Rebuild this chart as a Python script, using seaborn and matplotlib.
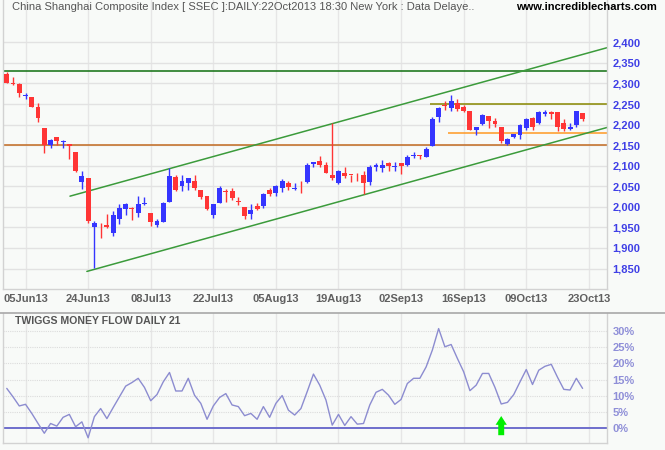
import matplotlib
matplotlib.use('Agg')
import matplotlib.pyplot as plt
import seaborn as sns
import numpy as np
from matplotlib.lines import Line2D
from matplotlib.patches import FancyArrow

sns.set_theme(style='white')
plt.rcParams['font.family'] = ['Liberation Sans', 'DejaVu Sans']

# ---------------- data ----------------
opens = [2323, 2301, 2299, 2270, 2267, 2243, 2192, 2150, 2169, 2158,
         2153, 2134, 2061, 2070, 1950, 1957, 1956, 1937, 1970, 1994,
         1998, 1986, 2008, 1985, 1957, 1964, 2013, 2072, 2050, 2058,
         2064, 2041, 2027, 1980, 2010, 2038, 2039, 2015, 2000, 1983,
         2002, 2002, 2041, 2033, 2047, 2058, 2044, 2053, 2061, 2105,
         2112, 2102, 2078, 2058, 2083, 2078, 2070, 2078, 2060, 2096,
         2095, 2107, 2098, 2106, 2101, 2124, 2125, 2122, 2148, 2218,
         2248, 2240, 2252, 2244, 2234, 2188, 2202, 2220, 2209, 2195,
         2154, 2169, 2174, 2192, 2216, 2205, 2225, 2231, 2230, 2204,
         2190, 2199, 2229]
highs = [2329, 2315, 2300, 2278, 2268, 2252, 2192, 2165, 2171, 2163,
         2154, 2134, 2088, 2070, 1966, 1960, 1983, 1991, 2006, 2010,
         1999, 2027, 2025, 1985, 1970, 2013, 2094, 2078, 2078, 2069,
         2078, 2041, 2027, 2007, 2051, 2044, 2047, 2023, 2000, 2006,
         2009, 2033, 2047, 2053, 2068, 2062, 2059, 2063, 2106, 2110,
         2124, 2110, 2203, 2090, 2098, 2078, 2083, 2086, 2101, 2107,
         2115, 2110, 2110, 2106, 2125, 2134, 2127, 2146, 2218, 2242,
         2258, 2272, 2263, 2248, 2234, 2195, 2226, 2220, 2216, 2195,
         2168, 2178, 2201, 2216, 2218, 2232, 2235, 2232, 2230, 2214,
         2204, 2234, 2229]
lows = [2302, 2297, 2268, 2263, 2244, 2207, 2130, 2144, 2151, 2142,
        2117, 2085, 2044, 1960, 1852, 1925, 1949, 1928, 1959, 1980,
        1968, 1976, 2005, 1954, 1950, 1962, 2012, 2039, 2039, 2041,
        2041, 2019, 1993, 1972, 2009, 2013, 2017, 2005, 1971, 1970,
        1993, 1998, 2027, 2027, 2037, 2041, 2040, 2033, 2059, 2096,
        2096, 2082, 2065, 2056, 2070, 2061, 2063, 2031, 2053, 2088,
        2084, 2088, 2088, 2081, 2099, 2118, 2117, 2121, 2148, 2206,
        2236, 2232, 2232, 2231, 2186, 2175, 2199, 2191, 2195, 2156,
        2150, 2168, 2164, 2187, 2187, 2202, 2221, 2213, 2185, 2185,
        2188, 2193, 2208]
closes = [2302, 2299, 2276, 2272, 2244, 2216, 2150, 2163, 2159, 2160,
          2147, 2086, 2075, 1966, 1961, 1955, 1952, 1980, 1997, 2007,
          1996, 2007, 2010, 1962, 1966, 2010, 2075, 2041, 2062, 2069,
          2047, 2025, 1995, 2007, 2045, 2036, 2022, 2013, 1977, 1993,
          1995, 2031, 2031, 2051, 2063, 2048, 2046, 2052, 2102, 2108,
          2102, 2083, 2070, 2087, 2076, 2077, 2069, 2059, 2097, 2103,
          2101, 2099, 2100, 2099, 2122, 2126, 2123, 2140, 2214, 2240,
          2245, 2258, 2238, 2234, 2187, 2194, 2224, 2209, 2201, 2159,
          2164, 2178, 2199, 2214, 2193, 2230, 2231, 2225, 2195, 2190,
          2195, 2232, 2214]
money_flow = [12.3, 9.7, 6.9, 7.4, 4.6, 1.5, -1.5, 1.5, 0.7, 3.4,
              4.3, 0.5, 2.0, -2.9, 3.6, 6.1, 3.0, 6.4, 9.7, 13.0,
              14.1, 15.4, 12.6, 8.5, 10.4, 14.3, 17.2, 11.5, 11.5, 15.4,
              10.2, 7.7, 2.8, 6.9, 9.5, 10.7, 7.2, 6.7, 3.9, 4.6,
              2.8, 6.7, 3.4, 7.7, 10.1, 5.6, 4.1, 6.1, 11.3, 16.7,
              13.3, 8.7, 1.0, 4.3, 0.9, 3.6, 1.3, 1.5, 7.2, 11.1,
              12.0, 10.2, 7.4, 8.9, 13.8, 15.4, 15.4, 18.9, 24.1, 30.7,
              25.1, 25.8, 21.5, 17.4, 11.6, 13.3, 16.9, 16.9, 12.6, 7.5,
              8.0, 10.4, 14.3, 18.1, 13.5, 17.9, 19.1, 19.7, 15.7, 12.0,
              11.8, 15.4, 12.3]

date_ticks = [3, 13, 23, 33, 43, 53, 63, 73, 83, 93]
date_labels = ['05Jun13', '24Jun13', '08Jul13', '22Jul13', '05Aug13',
               '19Aug13', '02Sep13', '16Sep13', '09Oct13', '23Oct13']
price_ticks = [1850, 1900, 1950, 2000, 2050, 2100, 2150, 2200, 2250,
               2300, 2350, 2400]
flow_ticks = [0, 5, 10, 15, 20, 25, 30]

upper_x = [10.1, 95.9]
upper_y = [2026, 2387]
lower_x = [12.8, 95.9]
lower_y = [1843, 2193]
resistance = 2330
support = 2150
range_top, range_top_start = 2250, 67.6
range_low, range_low_start = 2180, 70.5
signal_day = 79

# ---------------- figure ----------------
BG = '#f8faf8'
fig = plt.figure(figsize=(6.65, 4.5), dpi=100)
fig.patch.set_facecolor(BG)
W, H = 665.0, 450.0
ax = fig.add_axes([3 / W, 1 - 288.7 / H, 604 / W, 288.7 / H])
ax2 = fig.add_axes([3 / W, 1 - 443 / H, 604 / W, (443 - 313.3) / H])
for a in (ax, ax2):
    a.set_facecolor(BG)
    for s in a.spines.values():
        s.set_color('#d2d2d2')
        s.set_linewidth(1)
    a.spines['top'].set_visible(False)

n = len(closes)
idx = np.arange(n)
o = np.array(opens, float)
c = np.array(closes, float)
hi = np.array(highs, float)
lo = np.array(lows, float)
up = c >= o
cols = np.where(up, '#3535ff', '#ff3535')

ax.set_xlim(-0.6, 95.9)
ax.set_ylim(1801, 2503)

# grid
ax.set_axisbelow(True)
for t in date_ticks:
    ax.axvline(t, color='#e6e6e6', lw=1, zorder=0)
    ax2.axvline(t, color='#e6e6e6', lw=1, zorder=0)
for p in price_ticks:
    ax.axhline(p, color='#e2e2e2', lw=1, zorder=0)

# candles
ax.vlines(idx, lo, hi, colors=cols, lw=1, zorder=3)
body = np.maximum(np.abs(c - o), 2.0)
ax.bar(idx, body, bottom=np.minimum(o, c), width=0.78, color=cols,
       linewidth=0, zorder=4)

# lines
ax.axhline(resistance, color='#0f6f0f', lw=1.1, zorder=2)
ax.axhline(support, color='#c26a20', lw=1.1, zorder=2)
ax.hlines(range_top, range_top_start, 95.9, color='#888800', lw=1.1, zorder=2)
ax.hlines(range_low, range_low_start, 95.9, color='#ff9922', lw=1.1, zorder=2)
sns.lineplot(x=upper_x, y=upper_y, ax=ax, color='#3b9b3b', lw=1.1, zorder=2)
sns.lineplot(x=lower_x, y=lower_y, ax=ax, color='#3b9b3b', lw=1.1, zorder=2)

ax.set_xticks(date_ticks)
ax.set_xticklabels(date_labels)
ax.yaxis.tick_right()
ax.set_yticks(price_ticks)
ax.set_yticklabels([f'{p:,}' for p in price_ticks])
ax.tick_params(axis='x', length=0, pad=4, labelsize=8, labelcolor='#606060')
ax.tick_params(axis='y', length=0, pad=4, labelsize=8, labelcolor='#3f3fe6')
for lab in ax.get_xticklabels() + ax.get_yticklabels():
    lab.set_fontweight('bold')
ax.set_xlabel('')
ax.set_ylabel('')

# ---------------- lower panel ----------------
ax2.set_xlim(-0.6, 95.9)
ax2.set_ylim(-4.5, 35.4)
for f in flow_ticks[1:]:
    ax2.axhline(f, color='#dcdcdc', lw=0.8, ls=(0, (1, 1)), zorder=0)
ax2.axhline(0, color='#6e6ecc', lw=1.4, zorder=2)
sns.lineplot(x=idx, y=money_flow, ax=ax2, color='#8c8cd0', lw=1, zorder=3)
arr = FancyArrow(signal_day, -2.1, 0, 5.9, width=0.95, head_width=1.8,
                 head_length=2.7, length_includes_head=True,
                 color='#00ee00', lw=0, zorder=5)
ax2.add_patch(arr)
ax2.set_xticks([])
ax2.yaxis.tick_right()
ax2.set_yticks(flow_ticks)
ax2.set_yticklabels([f'{f}%' for f in flow_ticks])
ax2.tick_params(axis='y', length=0, pad=4, labelsize=8, labelcolor='#8f8fd8')
for lab in ax2.get_yticklabels():
    lab.set_fontweight('bold')
ax2.set_xlabel('')
ax2.set_ylabel('')

# separator
fig.add_artist(Line2D([0, 1], [1 - 313.3 / H] * 2, color='#a8a8a8', lw=1.2,
                      transform=fig.transFigure))

# titles
fig.text(12 / W, 1 - 7.5 / H,
         'China Shanghai Composite Index [ SSEC ]:DAILY:22Oct2013 18:30 New York : Data Delaye..',
         family=['Liberation Sans Narrow', 'Liberation Sans'], fontsize=8,
         color='#555555', va='center', ha='left')
fig.text(657 / W, 1 - 7.5 / H, 'www.incrediblecharts.com', fontsize=8,
         fontweight='bold', color='#000000', va='center', ha='right')
fig.text(15 / W, 1 - 321.5 / H, 'TWIGGS MONEY FLOW DAILY 21',
         family=['Liberation Sans', 'DejaVu Sans'], fontsize=7.6,
         fontweight='bold', color='#555555', va='center', ha='left')

fig.savefig('out.png', dpi=100, facecolor=BG)
